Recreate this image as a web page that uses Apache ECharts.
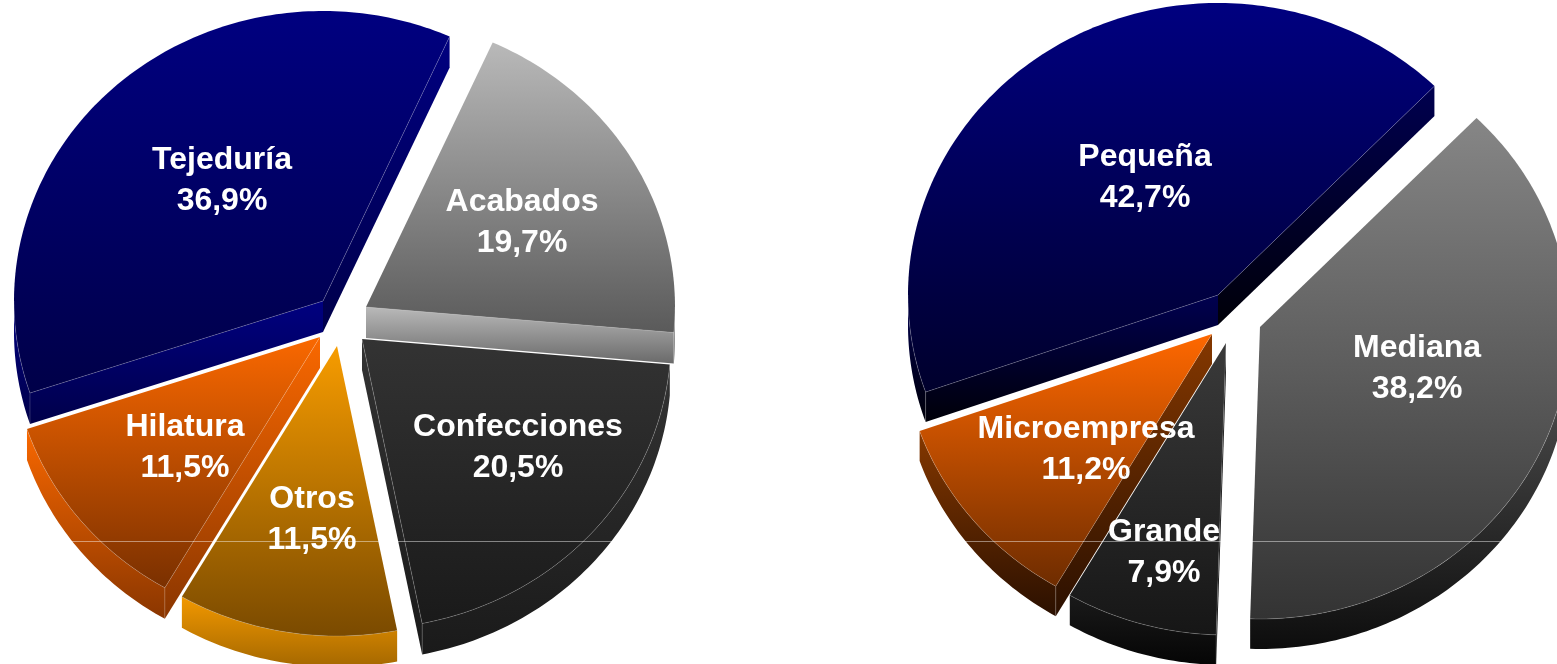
<!DOCTYPE html>
<html>
<head>
<meta charset="utf-8">
<style>html,body{margin:0;padding:0;background:#fff;overflow:hidden}#c{width:1557px;height:664px}</style>
<script src="https://cdn.jsdelivr.net/npm/echarts@6/dist/echarts.min.js"></script>
</head>
<body>
<div id="c"></div>
<script>
// ---- data ----
const sectorCategories = ['Acabados', 'Confecciones', 'Otros', 'Hilatura', 'Tejeduría'];
const sectorValues = [19.7, 20.5, 11.5, 11.5, 36.9];
const sizeCategories = ['Mediana', 'Grande', 'Microempresa', 'Pequeña'];
const sizeValues = [38.2, 7.9, 11.2, 42.7];

// ---- styles ----
const sectorStyle = {
  startAngle: 24.2, rx: 309, ry: 290, depth: 31,
  apex: [[366, 307], [362, 339], [337, 346], [320, 337], [323, 301]],
  order: [2, 4, 5, 3, 1],
  label: [[522, 223], [518, 448], [312, 520], [185, 448], [222, 181]],
  top: [['#b9b9b9', '#5a5a5a'], ['#333333', '#1a1a1a'], ['#f79c00', '#7a4a00'], ['#fa6800', '#7a3000'], ['#000080', '#000048']],
  wall: [['#b9b9b9', '#6a6a6a'], ['#333333', '#1a1a1a'], ['#f29800', '#a56800'], ['#fa6800', '#8a3600'], ['#000080', '#00004a']]
};
const sizeStyle = {
  startAngle: 44.3, rx: 310, ry: 292, depth: 30,
  apex: [[1260, 327], [1226, 343], [1212, 334], [1218, 295]],
  order: [2, 3, 4, 1],
  label: [[1417, 369], [1164, 553], [1086, 450], [1145, 178]],
  top: [['#868686', '#333333'], ['#3a3a3a', '#161616'], ['#ff6800', '#6e2c00'], ['#000080', '#00002c']],
  wall: [['#5a5a5a', '#0d0d0d'], ['#1a1a1a', '#050505'], ['#853800', '#2b1000'], ['#000050', '#000008']]
};
const edgeColor = 'rgba(255,255,255,0.18)';

function grad(c) {
  return { type: 'linear', x: 0, y: 0, x2: 0, y2: 1, global: false,
    colorStops: [{ offset: 0, color: c[0] }, { offset: 1, color: c[1] }] };
}

function makeSeries(names, values, st) {
  const total = values.reduce((a, b) => a + b, 0);
  const starts = [];
  values.reduce((acc, v, i) => { starts[i] = acc; return acc + v; }, 0);

  function rim(a, t, dy) {
    const r = t * Math.PI / 180;
    return [a[0] + st.rx * Math.sin(r), a[1] - st.ry * Math.cos(r) + (dy || 0)];
  }
  function arc(a, t0, t1, dy) {
    const pts = [];
    const n = Math.max(2, Math.ceil(Math.abs(t1 - t0)));
    for (let k = 0; k <= n; k++) pts.push(rim(a, t0 + (t1 - t0) * k / n, dy));
    return pts;
  }

  return {
    type: 'custom',
    coordinateSystem: 'none',
    silent: true,
    animation: false,
    clip: false,
    data: values.map((v, i) => ({ name: names[i], value: [v] })),
    renderItem: function (params, api) {
      const i = params.dataIndex;
      const v = api.value(0);
      const t0 = st.startAngle + starts[i] / total * 360;
      const t1 = t0 + v / total * 360;
      const a = st.apex[i];
      const z = st.order[i] * 10;
      const d = st.depth;
      const els = [];
      const poly = (points, fill, zz) => els.push({ type: 'polygon', z2: z + zz, shape: { points }, style: { fill: fill, stroke: null } });
      const line = (points) => els.push({ type: 'polyline', z2: z + 5, shape: { points }, style: { stroke: edgeColor, lineWidth: 1, fill: null } });
      const wall = grad(st.wall[i]);

      // radial walls that face the viewer
      const sinA = Math.sin(t0 * Math.PI / 180), sinB = Math.sin(t1 * Math.PI / 180);
      if (sinA < 0) {
        const R = rim(a, t0);
        poly([a, R, [R[0], R[1] + d], [a[0], a[1] + d]], wall, 1);
        line([a, R]); line([R, [R[0], R[1] + d]]);
      }
      if (sinB > 0) {
        const R = rim(a, t1);
        poly([a, R, [R[0], R[1] + d], [a[0], a[1] + d]], wall, 1);
        line([a, R]); line([R, [R[0], R[1] + d]]);
      }
      // outer wall: only the front half of the rim
      const f0 = Math.max(t0, 90), f1 = Math.min(t1, 270);
      if (f1 > f0) {
        const upper = arc(a, f0, f1, 0);
        const lower = arc(a, f1, f0, d);
        poly(upper.concat(lower), wall, 1);
        line(upper);
      }
      // top face
      poly([a].concat(arc(a, t0, t1, 0)), grad(st.top[i]), 3);
      // label
      els.push({
        type: 'text', z2: 200, x: st.label[i][0], y: st.label[i][1],
        style: {
          text: names[i] + '\n' + v.toFixed(1).replace('.', ',') + '%',
          fill: '#ffffff', font: 'bold 32px "Liberation Sans", Arial, sans-serif',
          lineHeight: 41, align: 'center', verticalAlign: 'middle'
        }
      });
      return { type: 'group', children: els };
    }
  };
}

const chart = echarts.init(document.getElementById('c'), null, { renderer: 'canvas', width: 1557, height: 664 });
chart.setOption({
  animation: false,
  backgroundColor: '#ffffff',
  series: [
    makeSeries(sectorCategories, sectorValues, sectorStyle),
    makeSeries(sizeCategories, sizeValues, sizeStyle)
  ],
  graphic: [{
    type: 'line', z: 100, silent: true,
    shape: { x1: 0, y1: 541.5, x2: 1557, y2: 541.5 },
    style: { stroke: 'rgba(255,255,255,0.45)', lineWidth: 1 }
  }]
});
</script>
</body>
</html>
